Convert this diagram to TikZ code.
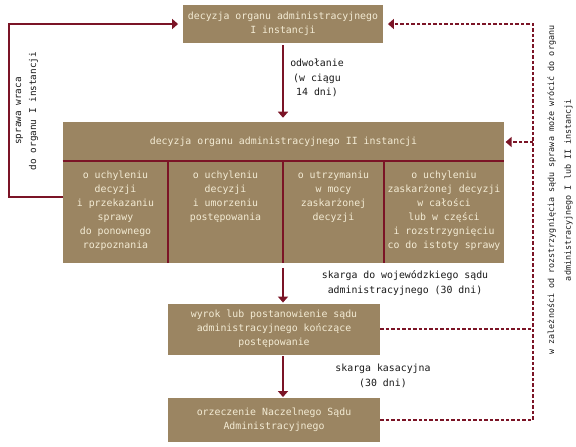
\documentclass[tikz,border=0pt]{standalone}
\usepackage{fontspec}
\setmonofont{DejaVu Sans Mono}
\usetikzlibrary{arrows.meta}
\definecolor{boxtan}{RGB}{155,133,98}
\definecolor{boxtext}{RGB}{243,235,212}
\definecolor{wine}{RGB}{123,20,38}
\tikzset{
  box/.style={fill=boxtan, text=boxtext, inner sep=0pt, align=center, font=\ttfamily\fontsize{7.4}{10.5}\selectfont},
  celltext/.style={text=boxtext, inner sep=0pt, align=center, anchor=north, font=\ttfamily\fontsize{7.4}{10.5}\selectfont},
  lbl/.style={text=black!90, inner sep=0.75pt, align=center, font=\ttfamily\fontsize{7.4}{10.8}\selectfont},
  tip/.style={-{Triangle[width=7.5pt,length=4.5pt]}},
  link/.style={draw=wine, line width=1.2pt},
  dashlink/.style={draw=wine, line width=1.1pt, dash pattern=on 2.6pt off 1.5pt},
}
\begin{document}
\begin{tikzpicture}[x=0.75pt,y=0.75pt,yscale=-1,xscale=1]
\useasboundingbox (0,0) rectangle (576,447);

%Shape: Rectangle [top]
\node (top) [box, minimum width=150pt, minimum height=28.5pt] at (283,24) {decyzja organu administracyjnego\\I instancji};
%Shape: Rectangle [big]
\node (big) [box, minimum width=330.75pt, minimum height=105.75pt] at (283.5,192.5) {};
% Text Node
\node (head) [celltext, anchor=center] at (283.5,142) {decyzja organu administracyjnego II instancji};
%Straight Lines
\draw [link] (big.west |- 0,161) -- (big.east |- 0,161) ;
\draw [link] (168,161) -- (168,263) ;
\draw [link] (283,161) -- (283,263) ;
\draw [link] (384,161) -- (384,263) ;
% Text Node
\node (c1) [celltext] at (115.5,171) {o uchyleniu\\decyzji\\i przekazaniu\\sprawy\\do ponownego\\rozpoznania};
% Text Node
\node (c2) [celltext] at (225.5,171) {o uchyleniu\\decyzji\\i umorzeniu\\postępowania};
% Text Node
\node (c3) [celltext] at (333.5,171) {o utrzymaniu\\w mocy\\zaskarżonej\\decyzji};
% Text Node
\node (c4) [celltext] at (444,171) {o uchyleniu\\zaskarżonej decyzji\\w całości\\lub w części\\i rozstrzygnięciu\\co do istoty sprawy};
%Shape: Rectangle [wyrok]
\node (wyrok) [box, minimum width=159pt, minimum height=38.25pt] at (274,329) {wyrok lub postanowienie sądu\\administracyjnego kończące\\postępowanie};
%Shape: Rectangle [nsa]
\node (nsa) [box, minimum width=159pt, minimum height=33pt] at (274,420) {orzeczenie Naczelnego Sądu\\Administracyjnego};

\coordinate (ret) at (9,24);
\coordinate (back) at (63,197);
\coordinate (dtop) at (533,24);

%Straight Lines
\draw [link, tip, shorten <=1.5pt, shorten >=3pt] (top.south) -- (top.south |- big.north) ;
%Straight Lines
\draw [link, tip, shorten <=3.5pt, shorten >=0.5pt] (top.south |- big.south) -- (top.south |- wyrok.north) ;
%Straight Lines
\draw [link, tip, shorten <=1pt, shorten >=0.5pt] (top.south |- wyrok.south) -- (top.south |- nsa.north) ;
%Straight Lines
\draw [link, tip, shorten >=3.5pt] (back) -| (ret) -- (top.west) ;
%Straight Lines
\draw [dashlink, tip, shorten >=3.5pt] (nsa.east) -| (dtop) -- (top.east) ;
\draw [dashlink] (wyrok.east) -- (wyrok.east -| dtop) ;
\draw [dashlink, tip, shorten >=1pt] (dtop |- head) -- (big.east |- head) ;

% Text Node
\node (odw) [lbl] at (317,78) {odwołanie\\(w ciągu\\14 dni)};
% Text Node
\node (skarga) [lbl] at (405,283) {skarga do wojewódzkiego sądu\\administracyjnego (30 dni)};
% Text Node
\node (kasacja) [lbl] at (383,376) {skarga kasacyjna\\(30 dni)};
% Text Node
\node (wraca) [lbl, rotate=90, font=\ttfamily\fontsize{7}{11.2}\selectfont] at (27,111) {sprawa wraca\\do organu I instancji};
% Text Node
\node (zalez) [lbl, rotate=90, font=\ttfamily\fontsize{6.3}{12.7}\selectfont] at (560,190) {w zależności od rozstrzygnięcia sądu sprawa może wrócić do organu\\administracyjnego I lub II instancji};
\end{tikzpicture}
\end{document}
